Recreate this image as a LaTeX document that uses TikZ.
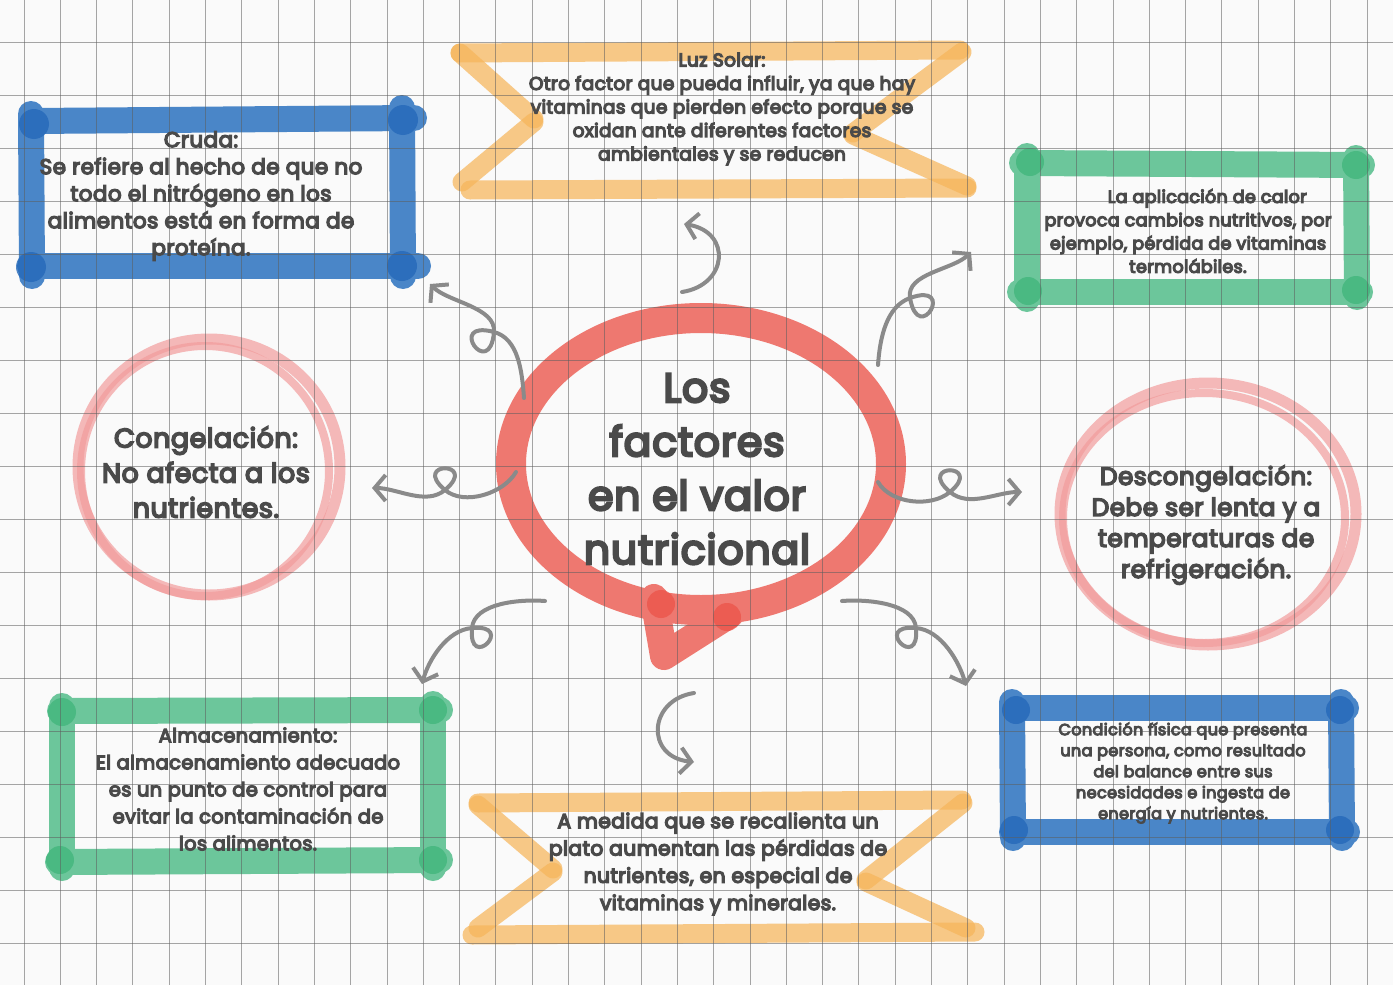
\documentclass[tikz,border=0pt]{standalone}
\usepackage{fontspec}
\setmainfont{Poppins}
\newfontfamily\handfont{Poppins}[LetterSpace=2]
\newcommand\heavy[1]{\special{pdf:literal direct 2 Tr #1 w}}
\usetikzlibrary{arrows.meta}
\definecolor{paper}{HTML}{FAFAFA}
\definecolor{gridc}{HTML}{5E5E5E}
\definecolor{ink}{HTML}{4A4A4A}
\definecolor{bluebr}{HTML}{4A86C8}
\definecolor{bluedk}{HTML}{2569B9}
\definecolor{greenbr}{HTML}{6CC69B}
\definecolor{greendk}{HTML}{3CB478}
\definecolor{orangebr}{HTML}{F6B55A}
\definecolor{pinkbr}{HTML}{F29C9C}
\definecolor{redbr}{HTML}{EE7870}
\definecolor{reddk}{HTML}{EC5349}
\definecolor{arrowc}{HTML}{8A8A8A}
\tikzset{
  brush/.style={line width=26pt, line cap=round, line join=round},
  blueside/.style={brush, draw=bluebr},
  greenside/.style={brush, draw=greenbr},
  bluedot/.style={fill=bluedk, opacity=0.8},
  greendot/.style={fill=greendk, opacity=0.7},
  orangeside/.style={line width=19pt, line cap=round, draw=orangebr, opacity=0.72},
  pinkring/.style={draw=pinkbr, opacity=0.7},
  redring/.style={draw=redbr, line width=30pt, line cap=round, line join=round},
  reddot/.style={fill=reddk, opacity=0.75},
  gridline/.style={draw=gridc, line width=1pt, opacity=0.55},
  arr/.style={draw=arrowc, line width=4pt, line cap=round,
    -{Straight Barb[length=11pt,width=26pt,line width=4pt]}},
  txt/.style={text=ink, align=center, inner sep=0pt},
}
\begin{document}
\begin{tikzpicture}[x=1pt,y=-1pt]
\useasboundingbox (0,0) rectangle (1393,985);
\fill[paper] (0,0) rectangle (1393,985);

% ---- Cruda (blue, top left)
\draw[blueside] (32,121) -- (414,118);
\draw[blueside] (30,266) -- (418,266);
\draw[blueside] (31,114) -- (32,276);
\draw[blueside] (402,108) -- (403,276);
\foreach \p in {(34,124),(403,120),(31,267),(402,266)} \fill[bluedot] \p circle (15pt);

% ---- aplicación de calor (green, top right)
\draw[greenside] (1022,163) -- (1362,165);
\draw[greenside] (1020,292) -- (1360,292);
\draw[greenside] (1027,156) -- (1027,299);
\draw[greenside] (1356,158) -- (1357,297);
\foreach \p in {(1030,162),(1356,165),(1028,291),(1356,290)} \fill[greendot] \p circle (14pt);

% ---- Almacenamiento (green, bottom left)
\draw[greenside] (60,711) -- (440,710);
\draw[greenside] (58,862) -- (440,860);
\draw[greenside] (62,706) -- (62,868);
\draw[greenside] (433,704) -- (433,868);
\foreach \p in {(62,712),(433,710),(60,860),(433,860)} \fill[greendot] \p circle (14pt);

% ---- Condición física (blue, bottom right)
\draw[blueside] (1014,708) -- (1346,708);
\draw[blueside] (1012,832) -- (1347,832);
\draw[blueside] (1012,702) -- (1013,838);
\draw[blueside] (1341,702) -- (1342,838);
\foreach \p in {(1016,710),(1340,710),(1014,830),(1340,830)} \fill[bluedot] \p circle (14pt);

% ---- Luz Solar banner (orange, top)
\draw[orangeside] (460,53) -- (960,50);
\draw[orangeside] (470,190) -- (967,188);
\draw[orangeside] (460,53) -- (534,119);
\draw[orangeside] (534,122) -- (462,182);
\draw[orangeside] (962,52) -- (853,133);
\draw[orangeside] (853,135) -- (967,186);

% ---- recalienta banner (orange, bottom)
\draw[orangeside] (478,803) -- (962,800);
\draw[orangeside] (472,935) -- (975,932);
\draw[orangeside] (478,805) -- (553,869);
\draw[orangeside] (553,872) -- (478,928);
\draw[orangeside] (963,803) -- (866,880);
\draw[orangeside] (866,882) -- (966,928);

% ---- pink rings
\draw[pinkring, line width=11pt] (209,467) ellipse [x radius=131pt, y radius=128pt];
\draw[pinkring, line width=8pt] (205,471) ellipse [x radius=124pt, y radius=125pt];
\draw[pinkring, line width=11pt] (1208,514) ellipse [x radius=148pt, y radius=131pt];
\draw[pinkring, line width=8pt] (1204,518) ellipse [x radius=141pt, y radius=125pt];

% ---- central speech bubble
\draw[redring] (701,464) ellipse [x radius=190pt, y radius=146pt];
\draw[redring, line width=28pt] (654,598) -- (664,656) -- (730,614);
\fill[reddot] (661,604) circle (14pt);
\fill[reddot] (727,617) circle (14pt);

% ---- paper grid
\foreach \i in {0,...,37} \draw[gridline] ({24+36.3*\i},0) -- ({24+36.3*\i},985);
\foreach \j in {0,...,17} \draw[gridline] (0,{42+53*\j}) -- (1393,{42+53*\j});

% ---- arrow end points
\coordinate (aS) at (524,398); \coordinate (aL) at (494,332); \coordinate (aE) at (430,284);
\coordinate (bS) at (682,292); \coordinate (bE) at (684,224);
\coordinate (cS) at (878,365); \coordinate (cL) at (910,298); \coordinate (cE) at (971,252);
\coordinate (dS) at (516,472); \coordinate (dL) at (445,490); \coordinate (dE) at (372,488);
\coordinate (eS) at (878,482); \coordinate (eL) at (950,492); \coordinate (eE) at (1022,492);
\coordinate (fS) at (545,601); \coordinate (fL) at (472,628); \coordinate (fE) at (422,684);
\coordinate (gS) at (694,693); \coordinate (gE) at (694,762);
\coordinate (hS) at (842,601); \coordinate (hL) at (916,628); \coordinate (hE) at (966,686);

% ---- arrows
\draw[arr] (aS) .. controls (522,370) and (518,338.5) .. (aL)
  .. controls (445.7,319) and (489.6,381.8) .. (aL)
  .. controls (496,307) and (448,302) .. (aE);
\draw[arr] (bS) .. controls (728,285) and (732,232) .. (bE);
\draw[arr] (cS) .. controls (880,337) and (886.5,306.6) .. (cL)
  .. controls (957,281) and (918.7,347) .. (cL)
  .. controls (905.7,273.4) and (953.3,269.7) .. (cE);
\draw[arr] (dS) .. controls (503.5,493.7) and (464,506) .. (dL)
  .. controls (410.5,461) and (479.5,461) .. (dL)
  .. controls (425.8,506) and (397,488) .. (dE);
\draw[arr] (eS) .. controls (890.5,503.7) and (930.8,508) .. (eL)
  .. controls (984.5,463) and (915.5,463) .. (eL)
  .. controls (969,508) and (997,492) .. (eE);
\draw[arr] (fS) .. controls (520,599) and (474,603) .. (fL)
  .. controls (468,672.8) and (516.8,624) .. (fL)
  .. controls (447,630) and (428.5,660) .. (fE);
\draw[arr] (gS) .. controls (648,700) and (645,757) .. (gE);
\draw[arr] (hS) .. controls (867,599) and (914,603) .. (hL)
  .. controls (920,672.8) and (871.2,624) .. (hL)
  .. controls (941,630) and (959.5,662) .. (hE);

% ---- texts
\node[txt, font=\handfont\fontsize{21.5}{27}\selectfont\heavy{1.3}] (cruda) at (201,196)
  {Cruda:\\Se refiere al hecho de que no\\todo el nitrógeno en los\\alimentos está en forma de\\proteína.};
\node[txt, font=\handfont\fontsize{18.5}{23.5}\selectfont\heavy{1.2}] (luz) at (722,109)
  {Luz Solar:\\Otro factor que pueda influir, ya que hay\\vitaminas que pierden efecto porque se\\oxidan ante diferentes factores\\ambientales y se reducen};
\node[txt, font=\handfont\fontsize{17.5}{23.3}\selectfont\heavy{1.2}] (calor) at (1188,231)
  {\hspace*{2.2em}La aplicación de calor\\provoca cambios nutritivos, por\\ejemplo, pérdida de vitaminas\\termolábiles.};
\node[txt, font=\handfont\fontsize{41}{54}\selectfont\heavy{2.4}] (centro) at (697,469)
  {Los\\factores\\en el valor\\nutricional};
\node[txt, font=\handfont\fontsize{26.9}{35}\selectfont\heavy{1.6}] (cong) at (206,472)
  {Congelación:\\No afecta a los\\nutrientes.};
\node[txt, font=\handfont\fontsize{24.7}{31}\selectfont\heavy{1.5}] (descong) at (1206,525)
  {Descongelación:\\Debe ser lenta y a\\temperaturas de\\refrigeración.};
\node[txt, font=\handfont\fontsize{19.4}{27}\selectfont\heavy{1.2}] (almac) at (248,789)
  {Almacenamiento:\\El almacenamiento adecuado\\es un punto de control para\\evitar la contaminación de\\los alimentos.};
\node[txt, font=\handfont\fontsize{20.3}{27.3}\selectfont\heavy{1.3}] (recal) at (718,864)
  {A medida que se recalienta un\\plato aumentan las pérdidas de\\nutrientes, en especial de\\vitaminas y minerales.};
\node[txt, font=\handfont\fontsize{16.1}{21}\selectfont\heavy{1.0}] (condic) at (1183,773)
  {Condición física que presenta\\una persona, como resultado\\del balance entre sus\\necesidades e ingesta de\\energía y nutrientes.};
\end{tikzpicture}
\end{document}
